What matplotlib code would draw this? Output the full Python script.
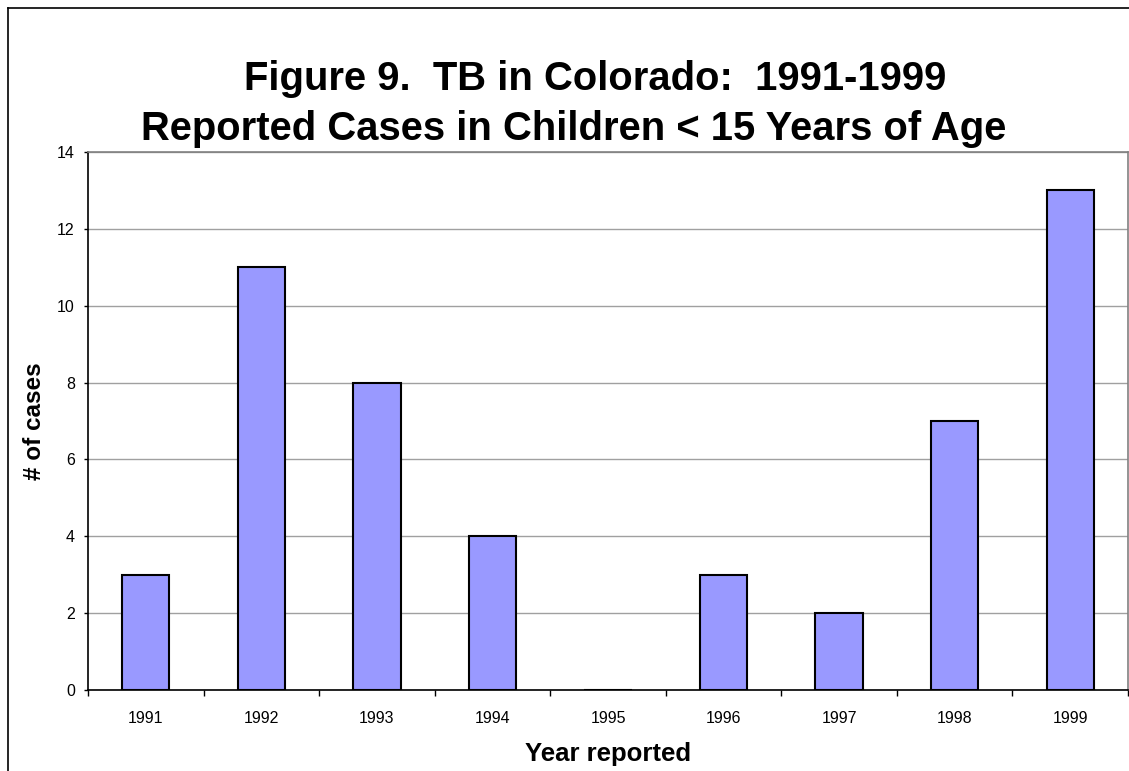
import numpy as np
import matplotlib
matplotlib.use('Agg')
import matplotlib.pyplot as plt
from matplotlib.lines import Line2D

# chart data
years = ['1991', '1992', '1993', '1994', '1995', '1996', '1997', '1998', '1999']
cases = [3, 11, 8, 4, 0, 3, 2, 7, 13]
y_ticks = [0, 2, 4, 6, 8, 10, 12, 14]

plt.rcParams['font.family'] = ['Liberation Sans', 'DejaVu Sans']

W, H = 1129, 771
fig = plt.figure(figsize=(W / 100, H / 100), dpi=100)
fig.patch.set_facecolor('white')

# plot area in pixels: left 88, right 1128, top 152, bottom 690
ax = fig.add_axes([88 / W, 1 - 690 / H, (1128 - 88) / W, (690 - 152) / H])

x = np.arange(len(years))
ax.bar(x, cases, width=0.41, color='#9999FF', edgecolor='black', linewidth=1.5, zorder=3)

ax.set_xlim(-0.5, len(years) - 0.5)
ax.set_ylim(0, 14)
ax.set_yticks(y_ticks)
ax.set_yticklabels([str(t) for t in y_ticks], fontsize=11.5)
ax.yaxis.grid(True, color='#a0a0a0', linewidth=1, zorder=0)
ax.set_axisbelow(True)

# category labels at centers, tick marks at boundaries
ax.set_xticks(x)
ax.set_xticklabels(years, fontsize=11.5)
ax.tick_params(axis='x', length=0, pad=15)
ax.set_xticks(np.arange(-0.5, len(years) + 0.5, 1), minor=True)
ax.tick_params(axis='x', which='minor', length=4, width=1, direction='out', color='black')
ax.tick_params(axis='y', length=3, width=1, direction='out', pad=6.5, color='black')

for side in ['left', 'bottom']:
    ax.spines[side].set_color('black')
    ax.spines[side].set_linewidth(1.2)
for side in ['top', 'right']:
    ax.spines[side].set_color('#808080')
    ax.spines[side].set_linewidth(1.2)

ax.set_ylabel('# of cases', fontsize=17.5, fontweight='bold')
ax.yaxis.set_label_coords(-0.040, 0.5)
ax.set_xlabel('Year reported', fontsize=18.5, fontweight='bold')
ax.xaxis.set_label_coords(0.5, -0.097)

# title, two lines
fig.text(595 / W, 1 - 90 / H, 'Figure 9.  TB in Colorado:  1991-1999',
         ha='center', va='baseline', fontsize=28.8, fontweight='bold')
fig.text(574 / W, 1 - 140 / H, 'Reported Cases in Children < 15 Years of Age',
         ha='center', va='baseline', fontsize=28.8, fontweight='bold')

# outer chart border (left and top edges visible)
fig.add_artist(Line2D([8 / W, 8 / W], [0, 1 - 8 / H], color='black', linewidth=1.2, transform=fig.transFigure))
fig.add_artist(Line2D([8 / W, 1], [1 - 8 / H, 1 - 8 / H], color='black', linewidth=1.2, transform=fig.transFigure))

fig.savefig('out.png', dpi=100)
